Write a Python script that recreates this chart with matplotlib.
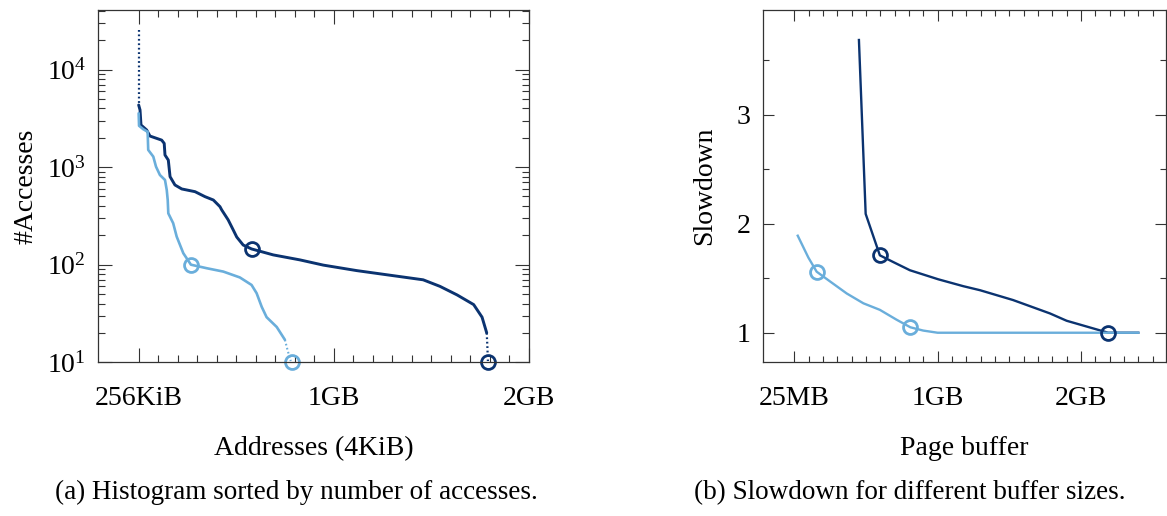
import matplotlib
matplotlib.use("Agg")
import matplotlib.pyplot as plt
from matplotlib.ticker import FixedLocator, LogLocator, MultipleLocator, NullFormatter

plt.rcParams["font.family"] = ["Liberation Serif", "DejaVu Serif"]
plt.rcParams["mathtext.fontset"] = "custom"
plt.rcParams["mathtext.rm"] = "Liberation Serif"
plt.rcParams["mathtext.it"] = "Liberation Serif:italic"

DARK = "#0b3370"
LIGHT = "#6aaedb"

# (a) accesses per 4KiB page, sorted (x in GB of address space)
dark_head_x = [0.0, 0.0]
dark_head_y = [25400, 4330]
dark_x = [0.0, 0.007, 0.012, 0.041, 0.058, 0.118, 0.131, 0.135, 0.152, 0.161,
          0.186, 0.221, 0.289, 0.340, 0.383, 0.417, 0.426, 0.459, 0.485, 0.503,
          0.536, 0.579, 0.690, 0.827, 0.947, 1.118, 1.289, 1.459, 1.545, 1.633,
          1.718, 1.761, 1.785]
dark_y = [4330, 3850, 2700, 2400, 2080, 1890, 1750, 1330, 1180, 798,
          656, 597, 560, 498, 460, 393, 364, 288, 227, 192,
          159, 145, 126, 112, 99, 87, 78, 70, 60, 49,
          39, 29, 20]
dark_tail_x = [1.785, 1.788, 1.791]
dark_tail_y = [20, 15, 10.3]
dark_marks_x = [0.579, 1.793]
dark_marks_y = [145, 10]

light_x = [0.0, 0.002, 0.024, 0.046, 0.049, 0.075, 0.089, 0.109, 0.135, 0.144,
           0.149, 0.152, 0.177, 0.195, 0.229, 0.268, 0.349, 0.434, 0.519, 0.579,
           0.605, 0.631, 0.656, 0.708, 0.750]
light_y = [3560, 2650, 2440, 2300, 1500, 1280, 1010, 830, 738, 583,
           460, 336, 266, 194, 131, 100, 92, 85, 74, 62,
           51, 37, 29, 23, 17]
light_tail_x = [0.750, 0.765, 0.780]
light_tail_y = [17, 13, 10.3]
light_marks_x = [0.268, 0.788]
light_marks_y = [100, 10]

# (b) slowdown vs page buffer size
buf_dark_x = [0.451, 0.498, 0.597, 0.691, 0.807, 1.005, 1.179, 1.296, 1.526,
              1.784, 1.900, 2.190, 2.400]
buf_dark_y = [3.685, 2.09, 1.71, 1.648, 1.573, 1.49, 1.427, 1.39, 1.30,
              1.177, 1.11, 1.0, 1.0]
buf_light_x = [0.024, 0.098, 0.156, 0.250, 0.366, 0.482, 0.597, 0.713, 0.810,
               0.899, 1.0, 2.40]
buf_light_y = [1.89, 1.69, 1.56, 1.47, 1.36, 1.27, 1.21, 1.12, 1.05,
               1.02, 1.0, 1.0]
buf_dark_marks = ([0.597, 2.19], [1.71, 1.0])
buf_light_marks = ([0.156, 0.81], [1.56, 1.05])

xt_a = [0, 1, 2]
xt_a_labels = ["256KiB", "1GB", "2GB"]
xt_b = [0, 1, 2]
xt_b_labels = ["25MB", "1GB", "2GB"]

FS = 20

fig = plt.figure(figsize=(11.67, 5.16), dpi=100)
ax1 = fig.add_axes([0.0844, 0.2979, 0.3686, 0.6827])
ax2 = fig.add_axes([0.6541, 0.2979, 0.3451, 0.6827])


def style_axes(ax, major_len, minor_len):
    for s in ax.spines.values():
        s.set_color("#333333")
        s.set_linewidth(0.9)
    ax.tick_params(which="both", direction="in", top=True, right=True,
                   color="#333333", width=0.8, labelsize=FS)
    ax.tick_params(which="major", length=major_len)
    ax.tick_params(which="minor", length=minor_len)
    ax.tick_params(axis="x", pad=17)
    ax.tick_params(axis="y", pad=9)


# --- (a) histogram ---
ax1.plot(dark_head_x, dark_head_y, color=DARK, lw=1.6, ls=(0, (0.8, 1.2)))
ax1.plot(dark_x, dark_y, color=DARK, lw=2.1, solid_capstyle="round",
         solid_joinstyle="round")
ax1.plot(dark_tail_x, dark_tail_y, color=DARK, lw=1.6, ls=(0, (0.8, 1.2)))
ax1.plot(light_x, light_y, color=LIGHT, lw=1.9, solid_capstyle="round",
         solid_joinstyle="round")
ax1.plot(light_tail_x, light_tail_y, color=LIGHT, lw=1.5, ls=(0, (0.8, 1.2)))
ax1.plot(dark_marks_x, dark_marks_y, ls="none", marker="o", ms=10, mfc="none",
         mec=DARK, mew=2.0, clip_on=False)
ax1.plot(light_marks_x, light_marks_y, ls="none", marker="o", ms=10, mfc="none",
         mec=LIGHT, mew=2.0, clip_on=False)

ax1.set_yscale("log")
ax1.set_xlim(-0.206, 2.0)
ax1.set_ylim(10, 40700)
ax1.xaxis.set_major_locator(FixedLocator(xt_a))
ax1.set_xticklabels(xt_a_labels)
ax1.xaxis.set_minor_locator(FixedLocator([i / 10 for i in range(0, 21)]))
ax1.yaxis.set_major_locator(LogLocator(base=10, numticks=10))
ax1.yaxis.set_minor_locator(LogLocator(base=10, subs=range(2, 10), numticks=10))
ax1.yaxis.set_minor_formatter(NullFormatter())
style_axes(ax1, 10, 5)
ax1.set_xlabel("Addresses (4KiB)", fontsize=FS, labelpad=18)
ax1.set_ylabel("#Accesses", fontsize=FS, labelpad=6)

# --- (b) slowdown ---
ax2.plot(buf_dark_x, buf_dark_y, color=DARK, lw=1.7, solid_joinstyle="round")
ax2.plot(buf_light_x, buf_light_y, color=LIGHT, lw=1.7, solid_joinstyle="round")
ax2.plot(*buf_dark_marks, ls="none", marker="o", ms=10, mfc="none", mec=DARK, mew=2.0)
ax2.plot(*buf_light_marks, ls="none", marker="o", ms=10, mfc="none", mec=LIGHT, mew=2.0)

ax2.set_xlim(-0.216, 2.594)
ax2.set_ylim(0.729, 3.96)
ax2.xaxis.set_major_locator(FixedLocator(xt_b))
ax2.set_xticklabels(xt_b_labels)
ax2.xaxis.set_minor_locator(FixedLocator([i / 10 for i in range(0, 26)]))
ax2.yaxis.set_major_locator(MultipleLocator(1))
ax2.yaxis.set_minor_locator(MultipleLocator(0.5))
style_axes(ax2, 8, 4.5)
ax2.set_xlabel("Page buffer", fontsize=FS, labelpad=18)
ax2.set_ylabel("Slowdown", fontsize=FS, labelpad=14)

fig.text(0.2536, 0.046, "(a) Histogram sorted by number of accesses.",
         ha="center", va="center", fontsize=FS - 0.5)
fig.text(0.7798, 0.046, "(b) Slowdown for different buffer sizes.",
         ha="center", va="center", fontsize=FS - 0.5)

fig.savefig("out.png", dpi=100)
